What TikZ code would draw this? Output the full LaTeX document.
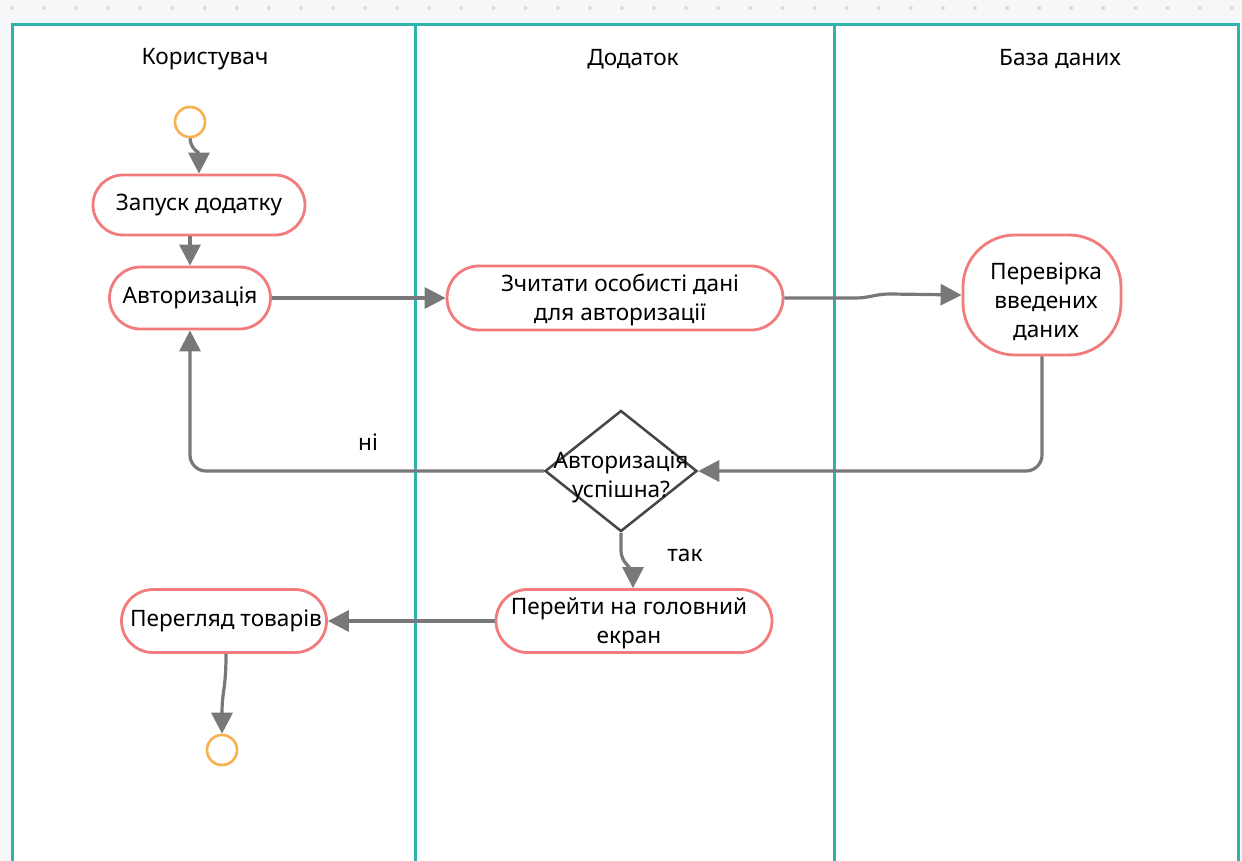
\documentclass[tikz,border=0pt]{standalone}
\usepackage{fontspec}
\setmainfont{Noto Sans}
\usetikzlibrary{arrows.meta,shapes.misc,shapes.geometric}
\definecolor{lane}{HTML}{2DB3AD}
\definecolor{act}{HTML}{F27B7B}
\definecolor{term}{HTML}{F8B04C}
\definecolor{flow}{HTML}{787878}
\definecolor{canvas}{HTML}{F7F7F9}
\definecolor{griddot}{HTML}{DADADF}
\definecolor{decide}{HTML}{454545}

\begin{document}
\begin{tikzpicture}[x=0.5pt,y=-0.5pt,
  every node/.style={font=\fontsize{11.3}{14.5}\selectfont, text=black},
  action/.style={rounded rectangle, draw=act, line width=1.4pt, fill=white,
    inner sep=0pt, align=center},
  terminal/.style={circle, draw=term, line width=1.3pt, minimum size=15pt,
    inner sep=0pt, fill=white},
  flowline/.style={draw=flow, line width=1.6pt,
    -{Triangle[length=10.5pt,width=10.5pt]}},
  swim/.style={draw=lane, line width=1.5pt}
]
\useasboundingbox (0,0) rectangle (1242,861);

% canvas with its dotted grid row
\fill[canvas] (0,0) rectangle (1242,861);
\foreach \k in {0,...,38}
  \fill[griddot] ({12+32.1*\k},8) circle (1pt);

% swimlane pool
\fill[white] (12,25) rectangle (1238,875);
\draw[swim] (12,875) -- (12,25) -- (1238,25) -- (1238,875);
\draw[swim] (415,25) -- (415,875);
\draw[swim] (834,25) -- (834,875);

% lane titles
\node (hUser) at (205,59) {Користувач};
\node (hApp)  at (633,59) {Додаток};
\node (hDb)   at (1060,59) {База даних};

% activities
\node[terminal] (start) at (190,122) {};
\node[action, minimum width=106pt, minimum height=30pt] (launch) at (199,205) {Запуск додатку};
\node[action, minimum width=80.5pt, minimum height=31pt] (auth) at (190,298) {Авторизація};
\node[action, minimum width=168pt, minimum height=32pt] (read) at (615,298) {};
\node[align=center] (readText) at (620,300) {Зчитати особисті дані\\для авторизації};
\node[draw=act, line width=1.4pt, fill=white, rounded corners=26pt,
  minimum width=79pt, minimum height=60pt, inner sep=0pt] (check) at (1042,295) {};
\node[align=center] (checkText) at (1046,302) {Перевірка\\введених\\даних};
\node[diamond, draw=decide, line width=1.25pt, fill=white, minimum width=76pt,
  minimum height=60.5pt, inner sep=0pt] (ok) at (621,471) {};
\node[align=center] (okText) at (621,477) {Авторизація\\успішна?};
\node[action, minimum width=138pt, minimum height=31.5pt] (home) at (634,621) {};
\node[align=center] (homeText) at (629,623) {Перейти на головний\\екран};
\node[action, minimum width=102.5pt, minimum height=31.5pt] (browse) at (224,621) {};
\node (browseText) at (226,621) {Перегляд товарів};
\node[terminal] (finish) at (222,750) {};

% control flow
\draw[flowline] (start.south) .. controls (191,150) and (199,152) .. (launch.north -| 199,0);
\draw[flowline] (auth.north |- launch.south) -- (auth.north);
\draw[flowline] (auth.east) -- (read.west);
\draw[flowline] (read.east) -- (855,298) .. controls (870,298) and (875,294) .. (890,294) -- (check.west);
\draw[flowline, rounded corners=8pt] (check.south) |- (ok.east);
\draw[flowline, rounded corners=8pt] (ok.west) -| (auth.south);
\draw[flowline] (ok.south) -- (621,550) .. controls (621,565) and (633,565) .. (633,578) -- (home.north -| 633,0);
\draw[flowline] (home.west) -- (browse.east);
\draw[flowline] (browse.south -| 226,0) .. controls (226,690) and (222,690) .. (finish.north);

% branch labels
\node (no)  at (368,442) {ні};
\node (yes) at (685,555) {так};
\end{tikzpicture}
\end{document}
